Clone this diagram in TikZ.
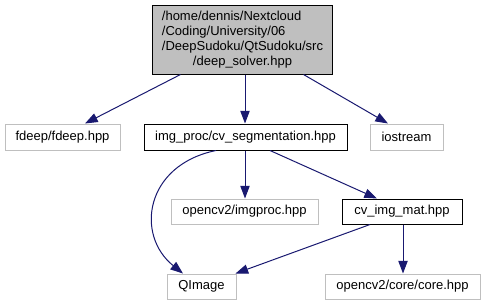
\documentclass[tikz,border=0pt]{standalone}
\usepackage{fontspec}
\setmainfont{Liberation Sans}
\usetikzlibrary{arrows.meta,calc}
\definecolor{edgeblue}{HTML}{191970}
\definecolor{extgray}{HTML}{BFBFBF}
\begin{document}
\begin{tikzpicture}[x=0.75pt,y=-0.75pt,
  every node/.style={font=\fontsize{9.75pt}{11.25pt}\selectfont, inner sep=0pt, align=center},
  filebox/.style={draw=black, line width=0.75pt, fill=white, minimum height=19.5pt},
  extbox/.style={draw=extgray, line width=0.75pt, fill=white, minimum height=19.5pt},
  rootbox/.style={draw=black, line width=0.75pt, fill=extgray},
  dep/.style={draw=edgeblue, line width=0.75pt, -{Triangle[length=9.5pt,width=7pt,fill=edgeblue]}}]
\useasboundingbox (0,0) rectangle (485,305);
% nodes
\node[rootbox, minimum width=135pt, minimum height=51.75pt] (root) at (242.5,39.5)
  {\begin{tabular}{@{}l@{}}/home/dennis/Nextcloud\\/Coding/University/06\\/DeepSudoku/QtSudoku/src\\
   \multicolumn{1}{@{}c@{}}{/deep\_solver.hpp}\end{tabular}};
\node[extbox, minimum width=86.25pt] (fdeep) at (62.5,137) {fdeep/fdeep.hpp};
\node[filebox, minimum width=152.25pt] (seg) at (245.5,137) {img\_proc/cv\_segmentation.hpp};
\node[extbox, minimum width=54.75pt] (io) at (406.5,137) {iostream};
\node[extbox, minimum width=110.25pt, minimum height=18.75pt] (imgproc) at (244.5,211.5) {opencv2/imgproc.hpp};
\node[filebox, minimum width=90pt, minimum height=18.75pt] (mat) at (402,211.5) {cv\_img\_mat.hpp};
\node[extbox, minimum width=51.75pt, minimum height=18.75pt] (qimg) at (201.5,286.5) {QImage};
\node[extbox, minimum width=116.25pt, minimum height=18.75pt] (core) at (402.5,286.5) {opencv2/core/core.hpp};
% dependencies
\draw[dep] ($(root.south)+(-62,0)$) -- ($(fdeep.north)+(22.5,0)$);
\draw[dep] ($(root.south)+(2.5,0)$) -- ($(seg.north)+(-0.5,0)$);
\draw[dep] ($(root.south)+(61,0)$) -- ($(io.north)+(-18.5,0)$);
\draw[dep] ($(seg.south)+(-0.5,0)$) -- ($(imgproc.north)+(0.5,0)$);
\draw[dep] ($(seg.south)+(24.5,0)$) -- ($(mat.north)+(-25,0)$);
\draw[dep] ($(seg.south)+(-29.5,0)$) .. controls (145,165) and (135,235) .. ($(qimg.north)+(-18.5,0)$);
\draw[dep] ($(mat.south)+(-32,0)$) -- ($(qimg.north east)+(-1,0)$);
\draw[dep] ($(mat.south)+(1,0)$) -- ($(core.north)+(0.5,0)$);
\end{tikzpicture}
\end{document}
